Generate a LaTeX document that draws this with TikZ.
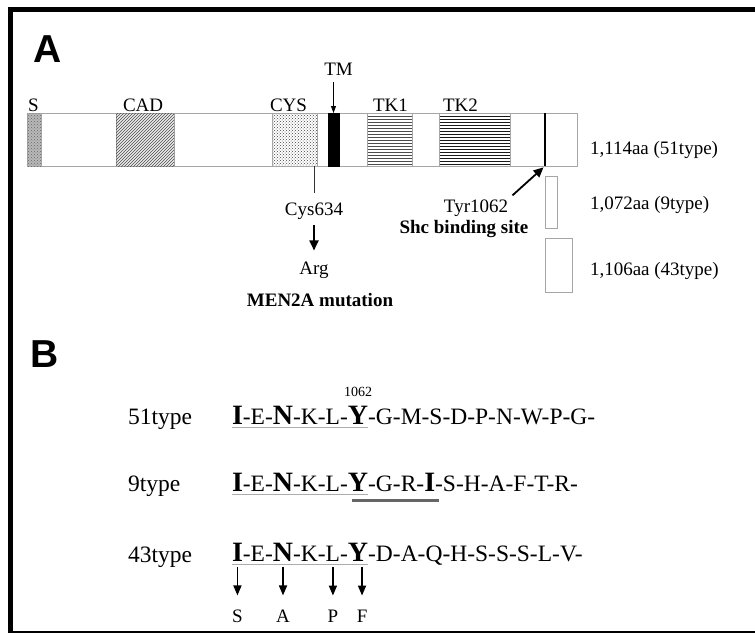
\documentclass[tikz,border=0pt]{standalone}
\usepackage{fontspec}
\setmainfont{Liberation Serif}
\newfontfamily\hvfont{Liberation Sans}
\usetikzlibrary{patterns,arrows.meta}
\newcommand\labAfont{\fontsize{19}{19}\selectfont}
\newcommand\labBfont{\fontsize{23.5}{23.5}\selectfont}
\newcommand\resBfont{\fontsize{28}{28}\selectfont\bfseries}
\newcommand\smallBfont{\fontsize{14}{14}\selectfont}
\newcommand\panelfont{\fontsize{39}{39}\selectfont\hvfont\bfseries}
\begin{document}
\begin{tikzpicture}[x=1pt,y=-1pt,
  every node/.style={inner sep=0pt, outer sep=0pt},
  dom/.style={rectangle, draw=gray!70, line width=0.8pt, anchor=north west, minimum height=53pt},
  iso/.style={rectangle, draw=gray!70, line width=0.8pt, anchor=north west},
  labA/.style={font=\labAfont, anchor=base west},
  labAc/.style={font=\labAfont, anchor=base},
  seqB/.style={font=\labBfont, anchor=base west},
  resB/.style={font=\resBfont, anchor=base west},
  uline/.style={draw=gray!65, line width=1pt},
  gbar/.style={draw=black!60, line width=3pt},
  thinarrow/.style={draw=black, line width=0.8pt, -{Triangle[length=7pt,width=5pt]}},
  bigarrow/.style={draw=black, line width=1.8pt, -{Triangle[length=10pt,width=9pt]}},
  subarrow/.style={draw=black, line width=1.6pt, -{Triangle[length=10pt,width=8pt]}},
  frame/.style={draw=black}
]
\useasboundingbox (0,0) rectangle (755,633);
% frame
\draw[frame, line width=5.5pt] (8,9.5) -- (755,9.5);
\draw[frame, line width=5pt] (10.8,7) -- (10.8,633);
\draw[frame, line width=2pt] (8,632) -- (755,632);

% panel A
\node[font=\panelfont, anchor=base west] (pA) at (34,62) {A};
\node[dom, minimum width=550pt] (bar) at (27,113) {};
\node[dom, minimum width=14pt, fill=gray!55, postaction={pattern=crosshatch dots, pattern color=black!60}] (dS) at (27,113) {};
\node[dom, minimum width=58pt, fill=gray!15, postaction={pattern=north east lines, pattern color=black!70}] (dCAD) at (116,113) {};
\node[dom, minimum width=45pt, pattern=crosshatch dots, pattern color=black!75] (dCYS) at (272,113) {};
\node[dom, minimum width=11pt, fill=black, draw=black] (dTM) at (328,113) {};
\node[dom, minimum width=45pt, pattern=horizontal lines, pattern color=black!70] (dTK1) at (367,113) {};
\node[dom, minimum width=71pt, pattern=horizontal lines, pattern color=black!90] (dTK2) at (439,113) {};
\node[rectangle, fill=black, minimum width=2pt, minimum height=53pt, anchor=north] (tyr) at (545,113) {};

\node[labA] (lS) at (28,111) {S};
\node[labA] (lCAD) at (123,111) {CAD};
\node[labA] (lCYS) at (270,111) {CYS};
\node[labA] (lTK1) at (373,111) {TK1};
\node[labA] (lTK2) at (443,111) {TK2};
\node[labAc] (lTM) at (338.5,75) {TM};
\draw[thinarrow, shorten <=7pt] (lTM.south -| dTM.north) -- (dTM.north);

\node[iso, minimum width=12pt, minimum height=52pt] (b9) at (545,176) {};
\node[iso, minimum width=27pt, minimum height=54pt] (b43) at (545,238) {};
\node[labA] (l51) at (590,154) {1,114aa (51type)};
\node[labA] (l9) at (590,209) {1,072aa (9type)};
\node[labA] (l43) at (590,275) {1,106aa (43type)};

\node[labAc] (cys) at (314,215) {Cys634};
\node[labAc] (arg) at (314,274) {Arg};
\node[labAc, font=\labAfont\bfseries] (men) at (320,306) {MEN2A mutation};
\draw[draw=black!80, line width=1pt, shorten >=9pt] (bar.south -| cys.north) -- (cys.north);
\draw[bigarrow, shorten <=6pt, shorten >=11pt] (cys.south) -- (arg.north -| cys.south);

\node[labAc] (tyrl) at (476,212) {Tyr1062};
\node[labAc, font=\labAfont\bfseries] (shc) at (464,233) {Shc binding site};
\draw[bigarrow, shorten <=6pt, shorten >=2pt] (tyrl.north east) -- (tyr.south);

% panel B
\node[font=\panelfont, anchor=base west] (pB) at (30,367) {B};

% row 1
\node[seqB] (t51) at (128,424) {51type};
\node[resB] (r1a) at (232,424) {I};
\node[seqB] (r1b) at (r1a.base east) {-E-};
\node[resB] (r1c) at (r1b.base east) {N};
\node[seqB] (r1d) at (r1c.base east) {-K-L-};
\node[resB] (r1e) at (r1d.base east) {Y};
\node[seqB] (r1f) at (r1e.base east) {-G-M-S-D-P-N-W-P-G-};
\node[font=\smallBfont, anchor=base] (n1062) at ([yshift=9pt]r1e.north) {1062};
\draw[uline] ([yshift=-3pt]r1a.base west) -- ([yshift=-3pt]r1e.base east);

% row 2
\node[seqB] (t9) at (128,491) {9type};
\node[resB] (r2a) at (232,491) {I};
\node[seqB] (r2b) at (r2a.base east) {-E-};
\node[resB] (r2c) at (r2b.base east) {N};
\node[seqB] (r2d) at (r2c.base east) {-K-L-};
\node[resB] (r2e) at (r2d.base east) {Y};
\node[seqB] (r2f) at (r2e.base east) {-G-R-};
\node[resB] (r2g) at (r2f.base east) {I};
\node[seqB] (r2h) at (r2g.base east) {-S-H-A-F-T-R-};
\draw[uline] ([yshift=-3pt]r2a.base west) -- ([yshift=-3pt]r2e.base east);
\draw[gbar] ([xshift=4pt,yshift=-9pt]r2e.base west) -- ([xshift=4pt,yshift=-9pt]r2g.base east);

% row 3
\node[seqB] (t43) at (128,562) {43type};
\node[resB] (r3a) at (232,561) {I};
\node[seqB] (r3b) at (r3a.base east) {-E-};
\node[resB] (r3c) at (r3b.base east) {N};
\node[seqB] (r3d) at (r3c.base east) {-K-};
\node[seqB] (r3e) at (r3d.base east) {L};
\node[seqB] (r3f) at (r3e.base east) {-};
\node[resB] (r3g) at (r3f.base east) {Y};
\node[seqB] (r3h) at (r3g.base east) {-D-A-Q-H-S-S-S-L-V-};
\draw[uline] ([yshift=-3pt]r3a.base west) -- ([yshift=-3pt]r3g.base east);

\node[labAc] (sS) at (r3a.base |- 0,622) {S};
\node[labAc] (sA) at (r3c.base |- 0,622) {A};
\node[labAc] (sP) at (r3e.base |- 0,622) {P};
\node[labAc] (sF) at ([xshift=4pt]r3g.base |- 0,622) {F};
\draw[subarrow, shorten <=6pt, shorten >=14pt] (r3a.south) -- (sS.north);
\draw[subarrow, shorten <=6pt, shorten >=14pt] (r3c.south) -- (sA.north);
\draw[subarrow, shorten <=6pt, shorten >=14pt] (r3e.south) -- (sP.north);
\draw[subarrow, shorten <=6pt, shorten >=14pt] (r3g.south -| sF.north) -- (sF.north);
\end{tikzpicture}
\end{document}
